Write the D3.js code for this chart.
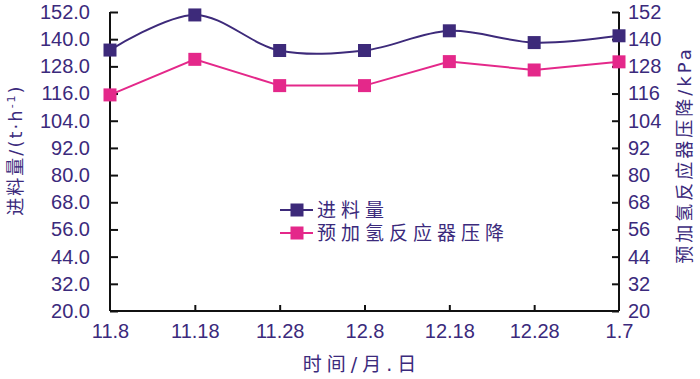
<!DOCTYPE html>
<html>
<head>
<meta charset="utf-8">
<script src="https://cdn.jsdelivr.net/npm/d3@7"></script>
<style>
html,body{margin:0;padding:0;background:#fff;}
svg{display:block;}
</style>
</head>
<body>
<svg id="chart" width="700" height="379"></svg>
<script>
const categories = ["11.8","11.18","11.28","12.8","12.18","12.28","1.7"];
const feedValues = [135.2, 150.7, 135.0, 135.0, 143.7, 138.5, 141.5];
const pressureValues = [115.4, 131.1, 119.5, 119.5, 130.1, 126.4, 130.0];
const leftTicks = [20,32,44,56,68,80,92,104,116,128,140,152];
const rightTicks = [20,32,44,56,68,80,92,104,116,128,140,152];
const seriesNames = ["进料量","预加氢反应器压降"];
const leftTitle = "进料量/(t·h";
const rightTitle = "预加氢反应器压降/kPa";
const xTitle = "时间/月.日";

const purple = "#3d2a7a";
const pink = "#e4288a";
const textColor = "#3b2a7c";
const tickFont = "'Liberation Sans', Arial, sans-serif";
const cjkFont = "'DejaVu Sans', 'Noto Sans CJK SC', sans-serif";

const svg = d3.select("#chart");
const L = 110, R = 619, T = 12, B = 311;

const x = d3.scalePoint().domain(categories).range([L, R]);
const yL = d3.scaleLinear().domain([20,152]).range([B, T]);
const yR = d3.scaleLinear().domain([20,152]).range([B, T]);

// axes
const leftAxis = d3.axisLeft(yL).tickValues(leftTicks).tickFormat(d3.format(".1f")).tickSize(-8).tickPadding(20);
const rightAxis = d3.axisRight(yR).tickValues(rightTicks).tickFormat(d3.format("d")).tickSize(-7).tickPadding(9);
const bottomAxis = d3.axisBottom(x).tickSize(-6).tickPadding(13);

function styleAxis(g){
  g.select(".domain").attr("stroke","#111").attr("stroke-width",2);
  g.selectAll(".tick line").attr("stroke","#111").attr("stroke-width",2);
  g.selectAll(".tick text").attr("fill",textColor).style("font-family",tickFont).style("font-size","20px");
}

const gL = svg.append("g").attr("transform",`translate(${L},0)`).call(leftAxis);
gL.select(".domain").attr("d",`M0,${T}V${B}`);
styleAxis(gL);
const gR = svg.append("g").attr("transform",`translate(${R},0)`).call(rightAxis);
gR.select(".domain").attr("d",`M0,${T}V${B}`);
styleAxis(gR);
const gB = svg.append("g").attr("transform",`translate(0,${B})`).call(bottomAxis);
gB.select(".domain").attr("d",`M${L},0H${R}`);
gB.selectAll(".tick").filter((d,i)=> i===0 || i===categories.length-1).select("line").remove();
styleAxis(gB);

// lines
const feedLine = d3.line().x((d,i)=>x(categories[i])).y(d=>yL(d)).curve(d3.curveCatmullRom.alpha(0.5));
const presLine = d3.line().x((d,i)=>x(categories[i])).y(d=>yR(d));

svg.append("path").datum(feedValues).attr("d",feedLine).attr("fill","none").attr("stroke",purple).attr("stroke-width",2);
svg.append("path").datum(pressureValues).attr("d",presLine).attr("fill","none").attr("stroke",pink).attr("stroke-width",2);

const ms = 13;
svg.selectAll(".mf").data(feedValues).enter().append("rect")
  .attr("x",(d,i)=>x(categories[i])-ms/2).attr("y",d=>yL(d)-ms/2)
  .attr("width",ms).attr("height",ms).attr("fill",purple);
svg.selectAll(".mp").data(pressureValues).enter().append("rect")
  .attr("x",(d,i)=>x(categories[i])-ms/2).attr("y",d=>yR(d)-ms/2)
  .attr("width",ms).attr("height",ms).attr("fill",pink);

// legend
const legend = svg.append("g");
[purple, pink].forEach((c,i)=>{
  const cy = 210 + i*23;
  legend.append("line").attr("x1",280).attr("x2",313).attr("y1",cy).attr("y2",cy).attr("stroke",c).attr("stroke-width",2);
  legend.append("rect").attr("x",297-ms/2).attr("y",cy-ms/2).attr("width",ms).attr("height",ms).attr("fill",c);
  legend.append("text").attr("x",317).attr("y",cy+7).text(seriesNames[i])
    .attr("fill",textColor).style("font-family",cjkFont).style("font-size","19px").style("letter-spacing","5px");
});

// axis titles
const lt = svg.append("text").attr("transform","translate(22,150) rotate(-90)").attr("text-anchor","middle")
  .attr("fill",textColor).style("font-family",cjkFont).style("font-size","18px").style("letter-spacing","2px");
lt.append("tspan").text(leftTitle);
lt.append("tspan").attr("dy",-7).style("font-size","11px").text("-1");
lt.append("tspan").attr("dy",7).text(")");

svg.append("text").attr("transform","translate(691,155) rotate(-90)").attr("text-anchor","middle")
  .attr("fill",textColor).style("font-family",cjkFont).style("font-size","18px").style("letter-spacing","3px")
  .text(rightTitle);

svg.append("text").attr("x",362).attr("y",371).attr("text-anchor","middle")
  .attr("fill",textColor).style("font-family",cjkFont).style("font-size","19px").style("letter-spacing","5px")
  .text(xTitle);
</script>
</body>
</html>
